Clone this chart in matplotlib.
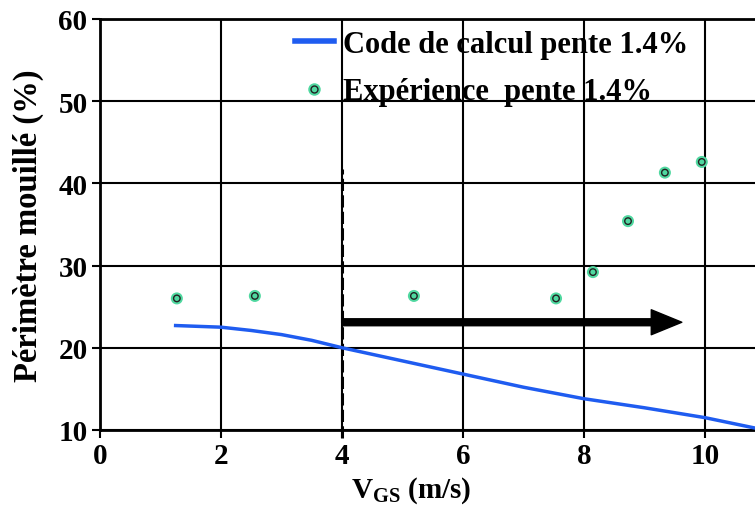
import matplotlib.pyplot as plt
from matplotlib.lines import Line2D

plt.rcParams['font.family'] = 'Liberation Serif'
plt.rcParams['font.weight'] = 'bold'
plt.rcParams['mathtext.fontset'] = 'custom'
plt.rcParams['mathtext.rm'] = 'Liberation Serif:bold'
plt.rcParams['mathtext.bf'] = 'Liberation Serif:bold'

# Code de calcul (courbe)
v_code = [1.25, 2.0, 2.5, 3.0, 3.5, 4.0, 5.0, 6.0, 7.0, 8.0, 9.0, 10.0, 10.85]
p_code = [22.7, 22.5, 22.1, 21.6, 20.9, 20.0, 18.4, 16.8, 15.2, 13.8, 12.7, 11.5, 10.2]

# Expérience
v_exp = [1.27, 2.56, 5.19, 7.54, 8.15, 8.73, 9.34, 9.95]
p_exp = [26.0, 26.3, 26.3, 26.0, 29.2, 35.4, 41.3, 42.6]

fig = plt.figure(figsize=(7.55, 5.10), dpi=100)
ax = fig.add_axes([0.1325, 0.155, 0.8675, 0.806])

ax.plot(v_code, p_code, color='#1f5cf0', lw=2.5, zorder=4)
ax.scatter(v_exp, p_exp, s=75, color='#50d8a0', edgecolors='none', zorder=5)
ax.scatter(v_exp, p_exp, s=22, facecolors='none', edgecolors='#222222', linewidths=1.0, zorder=6)

# ligne verticale pointillée à V=4 et flèche
ax.plot([4, 4], [9, 41.7], color='black', lw=2.2, ls=(0, (4, 1.4)), clip_on=False, zorder=3)
ax.annotate('', xy=(9.62, 23.1), xytext=(4, 23.1),
            arrowprops=dict(width=5, headwidth=18, headlength=22, color='black',
                            shrink=0), zorder=3)

ax.set_xlim(0, 10.83)
ax.set_ylim(10, 60)
ax.set_xticks([0, 2, 4, 6, 8, 10])
ax.set_yticks([10, 20, 30, 40, 50, 60])
ax.tick_params(labelsize=21, width=1.5, length=6, direction='out', pad=3)
for lbl in ax.get_xticklabels() + ax.get_yticklabels():
    lbl.set_fontweight('bold')

ax.grid(True, color='black', lw=1.5)
ax.set_axisbelow(False)
for s in ['left', 'bottom', 'top']:
    ax.spines[s].set_linewidth(2)
ax.spines['right'].set_visible(False)

ax.set_ylabel('Périmètre mouillé (%)', fontsize=23.5, fontweight='bold')
ax.yaxis.set_label_coords(-0.086, 0.5)
ax.set_xlabel(r'V$_{\mathrm{GS}}$ (m/s)', fontsize=21, fontweight='bold')
ax.xaxis.set_label_coords(0.475, -0.108)

h_code = Line2D([], [], color='#1f5cf0', lw=4)
h_exp = (Line2D([], [], ls='none', marker='o', ms=9, mfc='#50d8a0', mec='none'),
         Line2D([], [], ls='none', marker='o', ms=5, mfc='none', mec='#222222', mew=1))
leg = ax.legend([h_code, h_exp], ['Code de calcul pente 1.4%', 'Expérience  pente 1.4%'],
                loc='upper left', bbox_to_anchor=(0.255, 1.04), frameon=False,
                handlelength=1.3, handletextpad=0.3, labelspacing=0.6,
                prop={'weight': 'bold', 'size': 22})
leg.set_zorder(1)

fig.savefig('out.png', dpi=100)
